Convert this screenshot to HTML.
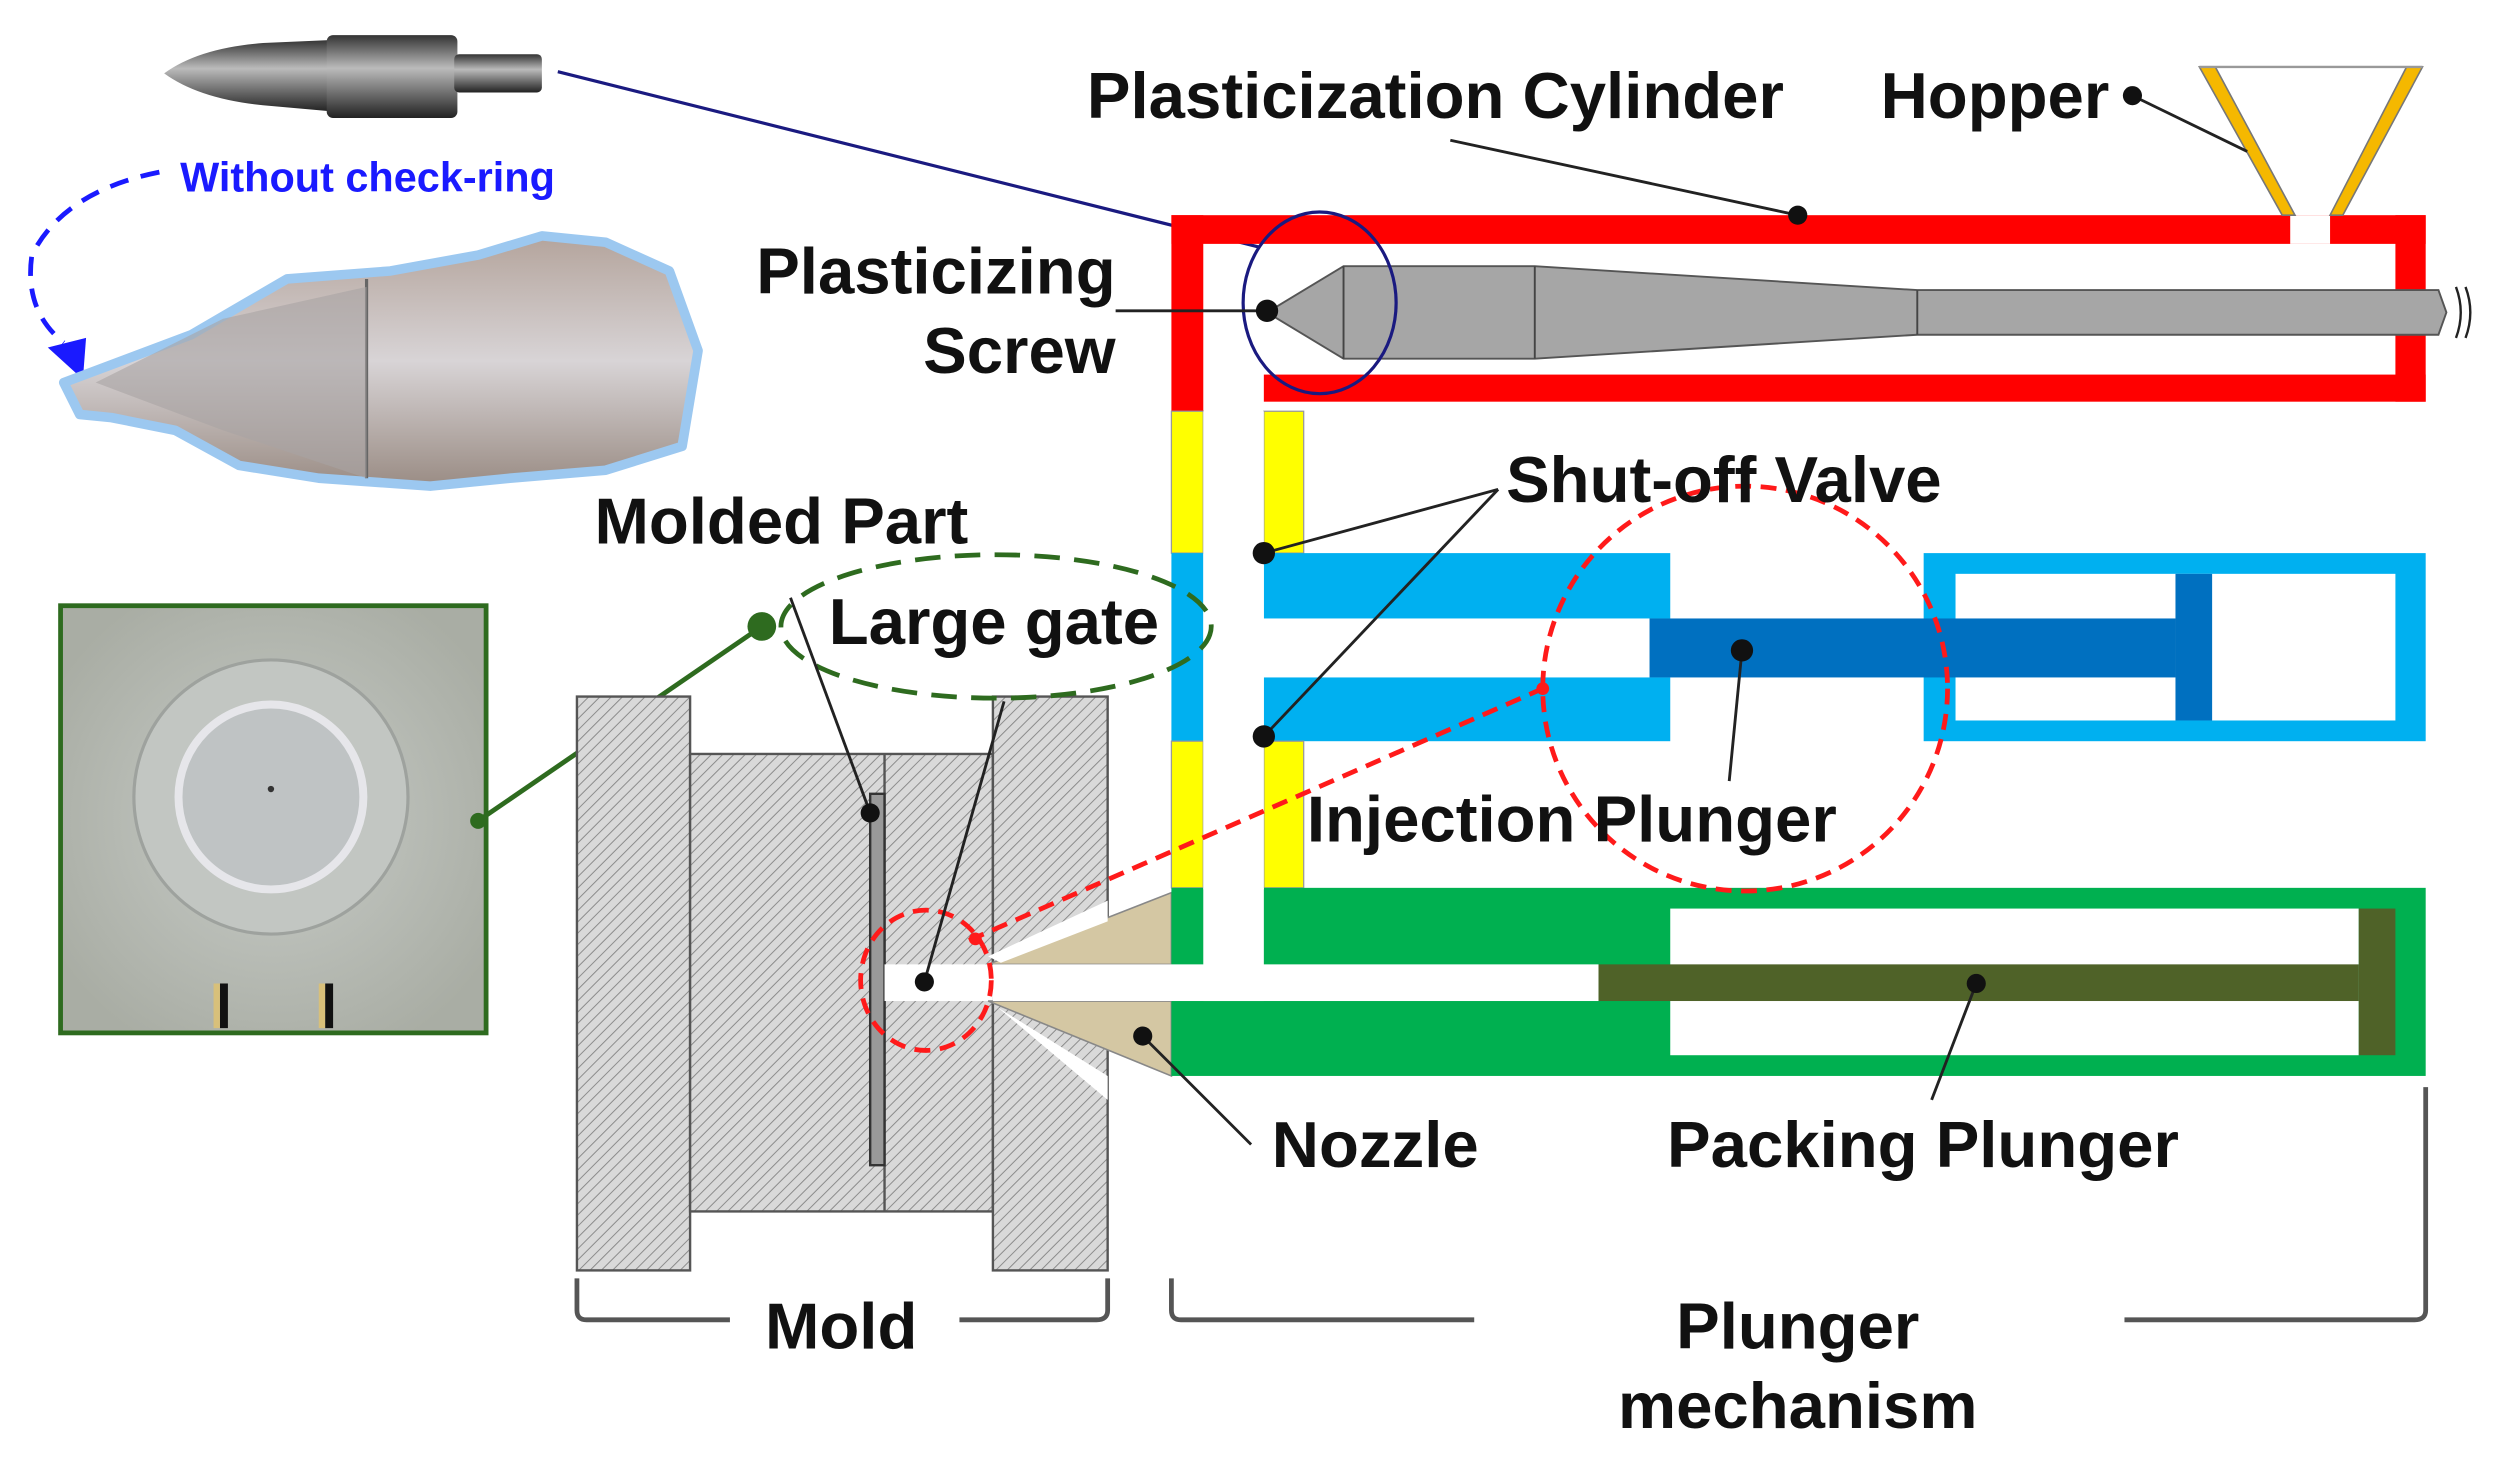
<!DOCTYPE html>
<html><head><meta charset="utf-8"><style>
html,body{margin:0;padding:0;background:#fff;}
svg{display:block;}
text{font-family:"Liberation Sans",Arial,sans-serif;font-weight:bold;fill:#111;}
</style></head><body>
<svg width="2499" height="1484" viewBox="0 0 1568 931" preserveAspectRatio="none" xmlns="http://www.w3.org/2000/svg">
<defs>
<pattern id="h" width="5" height="5" patternUnits="userSpaceOnUse" patternTransform="rotate(45)">
<rect width="5" height="5" fill="#d9d9d9"/><line x1="0" y1="0" x2="0" y2="5" stroke="#888" stroke-width="1.2"/></pattern>
<radialGradient id="pg" cx="0.5" cy="0.5" r="0.6"><stop offset="0" stop-color="#c8ccc8"/><stop offset="1" stop-color="#a9ada4"/></radialGradient>
<linearGradient id="mg" x1="0" y1="0" x2="0" y2="1"><stop offset="0" stop-color="#b4a49c"/><stop offset="0.5" stop-color="#d8d4d6"/><stop offset="1" stop-color="#9a8c84"/></linearGradient>
<linearGradient id="dg" x1="0" y1="0" x2="0" y2="1"><stop offset="0" stop-color="#333"/><stop offset="0.4" stop-color="#bbb"/><stop offset="1" stop-color="#222"/></linearGradient>
</defs>

<!-- top photo: screw tip -->
<path d="M103,46 Q125,30 165,27 L210,25 L210,70 L165,66 Q125,62 103,46 Z" fill="url(#dg)"/>
<rect x="205" y="22" width="82" height="52" rx="4" fill="url(#dg)"/>
<rect x="285" y="34" width="55" height="24" rx="3" fill="url(#dg)"/>
<line x1="350" y1="45" x2="790" y2="155" stroke="#1a1a80" stroke-width="2"/>

<!-- Without check-ring -->
<text x="113" y="120" font-size="26" style="fill:#1a1aff">Without check-ring</text>
<path d="M100,108 Q40,120 20,160 Q15,195 40,215" fill="none" stroke="#1a1aff" stroke-width="3" stroke-dasharray="12,8"/>
<polygon points="30,218 52,238 54,212" fill="#1a1aff"/>

<!-- bottom photo: melted screw -->
<path d="M40,240 L120,210 L180,175 L245,170 L300,160 L340,148 L380,152 L420,170 L438,220 L428,280 L380,295 L320,300 L270,305 L200,300 L150,292 L110,270 L70,262 L50,260 Z" fill="url(#mg)" stroke="#9cc8f0" stroke-width="6" stroke-linejoin="round"/>
<line x1="230" y1="175" x2="230" y2="300" stroke="#666" stroke-width="2"/>
<path d="M60,240 L140,200 L230,180 L230,300 L140,270 Z" fill="#a9a4a4" opacity="0.6"/>

<!-- molded part photo -->
<rect x="38" y="380" width="267" height="268" fill="url(#pg)" stroke="#2e6b1f" stroke-width="3"/>
<circle cx="170" cy="500" r="86" fill="#c2c6c2" stroke="#9ea29e" stroke-width="2"/>
<circle cx="170" cy="500" r="58" fill="#bfc3c4" stroke="#e6e6ea" stroke-width="5"/>
<circle cx="170" cy="495" r="2" fill="#333"/>
<rect x="138" y="617" width="5" height="28" fill="#111"/><rect x="134" y="617" width="4" height="28" fill="#d8c07a"/>
<rect x="204" y="617" width="5" height="28" fill="#111"/><rect x="200" y="617" width="4" height="28" fill="#d8c07a"/>
<line x1="300" y1="515" x2="478" y2="393" stroke="#2e6b1f" stroke-width="3"/>
<circle cx="300" cy="515" r="5" fill="#2e6b1f"/><circle cx="478" cy="393" r="9" fill="#2e6b1f"/>

<!-- Mold -->
<rect x="362" y="437" width="71" height="360" fill="url(#h)" stroke="#555" stroke-width="1.5"/>
<rect x="433" y="473" width="190" height="287" fill="url(#h)" stroke="#555" stroke-width="1.5"/>
<line x1="555" y1="473" x2="555" y2="760" stroke="#555" stroke-width="1.5"/>
<rect x="623" y="437" width="72" height="360" fill="url(#h)" stroke="#555" stroke-width="1.5"/>
<rect x="546" y="498" width="9" height="233" fill="#999" stroke="#333" stroke-width="1.5"/>
<rect x="555" y="605" width="68" height="23" fill="#fff"/>
<!-- nozzle -->
<polygon points="620,605 735,560 735,605" fill="#d4c7a3" stroke="#888" stroke-width="1"/>
<polygon points="620,628 735,628 735,675" fill="#d4c7a3" stroke="#888" stroke-width="1"/>
<polygon points="620,600 695,565 695,578 628,604" fill="#fff"/>
<polygon points="626,632 695,675 695,690" fill="#fff"/>

<!-- Red cylinder -->
<rect x="735" y="135" width="787" height="18" fill="#ff0000"/>
<rect x="1503" y="135" width="19" height="117" fill="#ff0000"/>
<rect x="793" y="235" width="729" height="17" fill="#ff0000"/>
<rect x="735" y="135" width="20" height="123" fill="#ff0000"/>
<rect x="1437" y="135" width="25" height="18" fill="#fff"/>
<!-- hopper -->
<polygon points="1380,42 1390,42 1440,135 1432,135" fill="#f5b800" stroke="#777" stroke-width="1"/>
<polygon points="1510,42 1520,42 1470,135 1462,135" fill="#f5b800" stroke="#777" stroke-width="1"/>
<line x1="1380" y1="42" x2="1520" y2="42" stroke="#999" stroke-width="1.5"/>
<!-- screw -->
<polygon points="795,196 843,167 963,167 1203,182 1530,182 1535,196 1530,210 1203,210 963,225 843,225" fill="#a6a6a6" stroke="#555" stroke-width="1.2"/>
<line x1="843" y1="167" x2="843" y2="225" stroke="#444" stroke-width="1.2"/>
<line x1="963" y1="167" x2="963" y2="225" stroke="#444" stroke-width="1.2"/>
<line x1="1203" y1="182" x2="1203" y2="210" stroke="#444" stroke-width="1.2"/>
<path d="M1541,180 q6,16 0,32 M1547,180 q6,16 0,32" fill="none" stroke="#222" stroke-width="1.5"/>
<ellipse cx="828" cy="190" rx="48" ry="57" fill="none" stroke="#1a1a80" stroke-width="2"/>

<!-- yellow / blue -->
<rect x="735" y="258" width="20" height="89" fill="#ffff00" stroke="#999" stroke-width="0.8"/>
<rect x="793" y="258" width="25" height="89" fill="#ffff00" stroke="#999" stroke-width="0.8"/>
<rect x="735" y="347" width="20" height="118" fill="#00b0f0"/>
<rect x="793" y="347" width="255" height="41" fill="#00b0f0"/>
<rect x="793" y="425" width="255" height="40" fill="#00b0f0"/>
<rect x="735" y="465" width="20" height="92" fill="#ffff00" stroke="#999" stroke-width="0.8"/>
<rect x="793" y="465" width="25" height="92" fill="#ffff00" stroke="#999" stroke-width="0.8"/>
<rect x="1207" y="347" width="315" height="118" fill="#00b0f0"/>
<rect x="1227" y="360" width="276" height="92" fill="#fff"/>
<rect x="1035" y="388" width="330" height="37" fill="#0070c0"/>
<rect x="1365" y="360" width="23" height="92" fill="#0070c0"/>

<!-- green -->
<rect x="735" y="557" width="787" height="118" fill="#00b050"/>
<rect x="755" y="557" width="38" height="71" fill="#fff"/>
<rect x="1048" y="570" width="432" height="92" fill="#fff"/>
<rect x="1480" y="570" width="23" height="92" fill="#4f6228"/>
<rect x="623" y="605" width="380" height="23" fill="#fff"/>
<rect x="1003" y="605" width="477" height="23" fill="#4f6228"/>
<rect x="755" y="258" width="38" height="300" fill="#fff"/>

<!-- red dashed -->
<circle cx="1095" cy="432" r="127" fill="none" stroke="#ff1a1a" stroke-width="3" stroke-dasharray="10,6"/>
<ellipse cx="581" cy="615" rx="41" ry="44" fill="none" stroke="#ff1a1a" stroke-width="3" stroke-dasharray="10,6"/>
<line x1="608" y1="590" x2="968" y2="432" stroke="#ff1a1a" stroke-width="3" stroke-dasharray="10,6"/>
<circle cx="968" cy="432" r="4" fill="#ff1a1a"/><circle cx="612" cy="589" r="4" fill="#ff1a1a"/>

<!-- green dashed ellipse -->
<ellipse cx="625" cy="393" rx="135" ry="45" fill="none" stroke="#2e6b1f" stroke-width="3" stroke-dasharray="16,9"/>

<!-- leader lines -->
<g stroke="#222" stroke-width="1.8" fill="none">
<line x1="910" y1="88" x2="1128" y2="135"/>
<line x1="1338" y1="60" x2="1410" y2="95"/>
<line x1="700" y1="195" x2="795" y2="195"/>
<line x1="940" y1="307" x2="793" y2="347"/>
<line x1="940" y1="307" x2="793" y2="462"/>
<line x1="1093" y1="408" x2="1085" y2="490"/>
<line x1="496" y1="375" x2="546" y2="510"/>
<line x1="630" y1="440" x2="580" y2="616"/>
<line x1="717" y1="650" x2="785" y2="718"/>
<line x1="1240" y1="617" x2="1212" y2="690"/>
</g>
<g fill="#111">
<circle cx="1128" cy="135" r="6"/><circle cx="1338" cy="60" r="6"/><circle cx="795" cy="195" r="7"/>
<circle cx="793" cy="347" r="7"/><circle cx="793" cy="462" r="7"/><circle cx="1093" cy="408" r="7"/>
<circle cx="546" cy="510" r="6"/><circle cx="580" cy="616" r="6"/><circle cx="717" cy="650" r="6"/><circle cx="1240" cy="617" r="6"/>
</g>

<!-- brackets -->
<path d="M362,802 L362,822 Q362,828 368,828 L458,828 M602,828 L688,828 Q695,828 695,822 L695,802" fill="none" stroke="#555" stroke-width="3"/>
<path d="M735,802 L735,822 Q735,828 741,828 L925,828 M1333,828 L1515,828 Q1522,828 1522,822 L1522,682" fill="none" stroke="#555" stroke-width="3"/>

<!-- labels -->
<text x="682" y="74" font-size="41">Plasticization Cylinder</text>
<text x="1180" y="74" font-size="41">Hopper</text>
<text x="700" y="184" font-size="41" text-anchor="end">Plasticizing</text>
<text x="700" y="234" font-size="41" text-anchor="end">Screw</text>
<text x="945" y="315" font-size="41">Shut-off Valve</text>
<text x="373" y="341" font-size="41">Molded Part</text>
<text x="520" y="404" font-size="41">Large gate</text>
<text x="820" y="528" font-size="41">Injection Plunger</text>
<text x="798" y="732" font-size="41">Nozzle</text>
<text x="1046" y="732" font-size="41">Packing Plunger</text>
<text x="480" y="846" font-size="41">Mold</text>
<text x="1128" y="846" font-size="41" text-anchor="middle">Plunger</text>
<text x="1128" y="896" font-size="41" text-anchor="middle">mechanism</text>
</svg>
</body></html>
